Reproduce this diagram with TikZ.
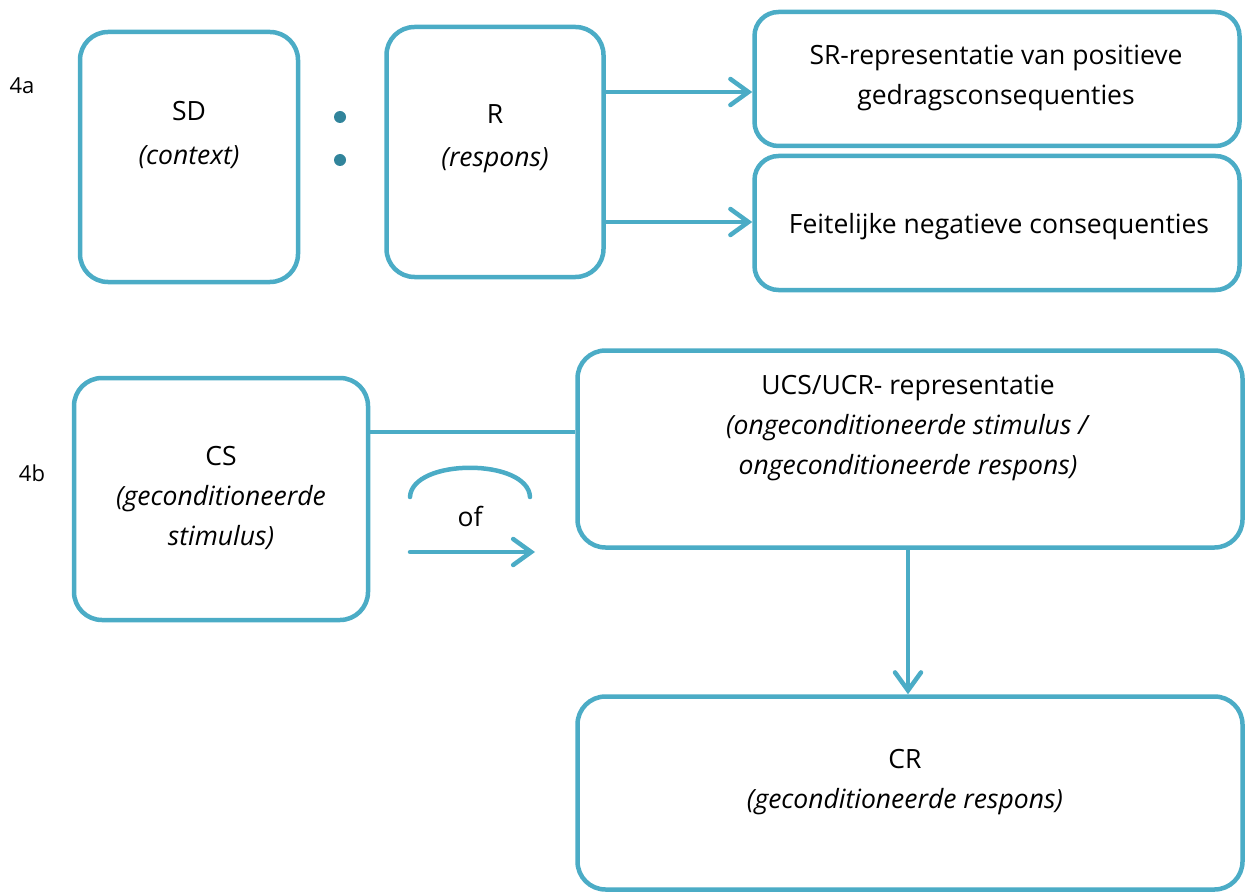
\documentclass[tikz,border=0pt]{standalone}
\usepackage{fontspec}
\setmainfont{Open Sans}
\usetikzlibrary{arrows.meta}
\definecolor{accentc}{HTML}{4BACC6}
\definecolor{dotc}{HTML}{31849B}
\begin{document}
\begin{tikzpicture}[x=1pt,y=-1pt,
  box/.style={draw=accentc, line width=4.5pt, rounded corners=28pt, fill=white, inner sep=0pt},
  txt/.style={align=center, font=\fontsize{26.5}{40}\selectfont, inner sep=0pt},
  lbl/.style={inner sep=0pt, font=\fontsize{22}{26}\selectfont},
  conn/.style={draw=accentc, line width=4.5pt},
  arr/.style={conn, -{Straight Barb[length=18pt,width=26pt,line cap=round]}},
  dotn/.style={circle, fill=dotc, minimum size=12pt, inner sep=0pt}]
\useasboundingbox (0,0) rectangle (1252,893);
% labels
\node[lbl] (l4a) at (22,86) {4a};
\node[lbl] (l4b) at (32,473) {4b};
% 4a boxes
\node[box, minimum width=218pt, minimum height=250pt] (sd) at (189,157) {};
\node[txt, font=\fontsize{26.5}{44}\selectfont] (sdt) at (189,135) {SD\\\textit{(context)}};
\node[dotn] (d1) at (340,117) {};
\node[dotn] (d2) at (340,160) {};
\node[box, minimum width=217pt, minimum height=250pt] (r) at (495,152) {};
\node[txt, font=\fontsize{26.5}{43}\selectfont] (rt) at (495,139) {R\\\textit{(respons)}};
\node[box, minimum width=485pt, minimum height=134pt, rounded corners=24pt] (sr) at (997,79) {};
\node[txt] (srt) at (996,78) {SR-representatie van positieve\\gedragsconsequenties};
\node[box, minimum width=485pt, minimum height=134pt, rounded corners=24pt] (fn) at (997,223) {};
\node[txt] (fnt) at (999,227) {Feitelijke negatieve consequenties};
\draw[arr] (r.east |- 0,92) -- (sr.west |- 0,92);
\draw[arr] (r.east |- 0,222) -- (fn.west |- 0,222);
% 4b boxes
\node[box, minimum width=294pt, minimum height=242pt] (cs) at (221,499) {};
\node[txt] (cst) at (221,498) {CS\\\textit{(geconditioneerde}\\\textit{stimulus)}};
\node[box, minimum width=665pt, minimum height=197pt] (ucs) at (910,449) {};
\node[txt] (ucst) at (908,428) {UCS/UCR- representatie\\\textit{(ongeconditioneerde stimulus /}\\\textit{ongeconditioneerde respons)}};
\node[box, minimum width=665pt, minimum height=193pt] (cr) at (910,793) {};
\node[txt] (crt) at (905,782) {CR\\\textit{(geconditioneerde respons)}};
\draw[conn] (cs.east |- 0,432) -- (ucs.west |- 0,432);
\draw[arr] (ucs.south -| 908,0) -- (cr.north -| 908,0);
% "of" alternative
\coordinate (a1) at (410,497);
\coordinate (a2) at (530,497);
\draw[conn, line cap=round] (a1) .. controls (412,458) and (528,458) .. (a2);
\node[txt] (oft) at (470,516) {of};
\coordinate (o1) at (410,552);
\coordinate (o2) at (535,552);
\draw[arr, line cap=round] (o1) -- (o2);
\end{tikzpicture}
\end{document}
